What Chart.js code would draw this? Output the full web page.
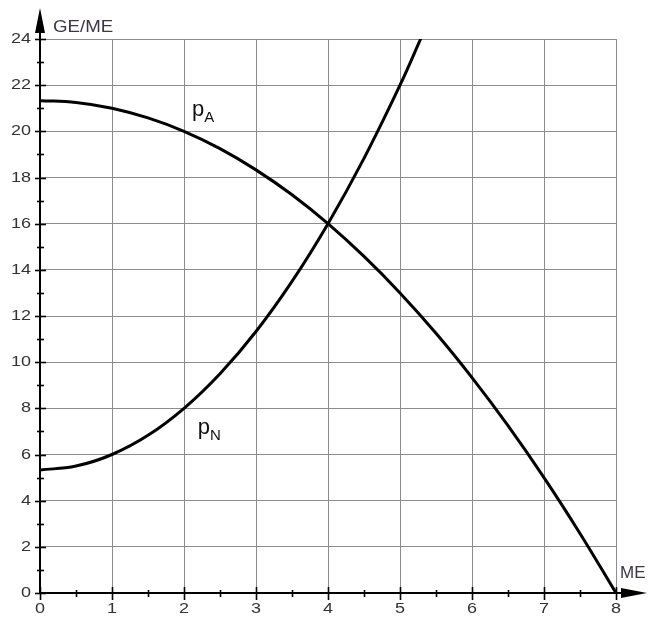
<!DOCTYPE html>
<html>
<head>
<meta charset="utf-8">
<script src="https://cdn.jsdelivr.net/npm/chart.js@4/dist/chart.umd.min.js"></script>
<style>
  html, body { margin: 0; padding: 0; background: #ffffff; }
  #wrap { width: 649px; height: 619px; }
</style>
</head>
<body>
<div id="wrap"><canvas id="c" width="649" height="619"></canvas></div>
<script>
// Quantity (ME) and the two price curves (GE/ME)
const qA = [0, 0.5, 1, 1.5, 2, 2.5, 3, 3.5, 4, 4.5, 5, 5.5, 6, 6.5, 7, 7.5, 8];
const pA = [21.33, 21.25, 21, 20.58, 20, 19.25, 18.33, 17.25, 16, 14.58, 13, 11.25, 9.33, 7.25, 5, 2.58, 0];

const qN = [0, 0.5, 1, 1.5, 2, 2.5, 3, 3.5, 4, 4.5, 5, 5.3];
const pN = [5.33, 5.5, 6, 6.83, 8, 9.5, 11.33, 13.5, 16, 18.83, 22, 24.1];

// Axis tick labels
const xTicks = [0, 1, 2, 3, 4, 5, 6, 7, 8];
const yTicks = [0, 2, 4, 6, 8, 10, 12, 14, 16, 18, 20, 22, 24];
const xMinor = [0.5, 1.5, 2.5, 3.5, 4.5, 5.5, 6.5, 7.5];
const yMinor = [1, 3, 5, 7, 9, 11, 13, 15, 17, 19, 21, 23];

const xTitle = 'ME';
const yTitle = 'GE/ME';

const toPts = (xs, ys) => xs.map((x, i) => ({ x: x, y: ys[i] }));

const FONT = '"Liberation Sans", Arial, sans-serif';
const TEXT = '#333333';

function stretched(ctx, s, x, y, align, sx) {
  ctx.save();
  ctx.translate(x, y);
  ctx.scale(sx, 1);
  ctx.textAlign = align;
  ctx.fillText(s, 0, 0);
  ctx.restore();
}

// Axes with arrows, major/minor ticks and tick labels
const axesPlugin = {
  id: 'axes',
  beforeDatasetsDraw(chart) {
    const ctx = chart.ctx;
    const xs = chart.scales.x, ys = chart.scales.y;
    const x0 = xs.getPixelForValue(0);
    const y0 = ys.getPixelForValue(0);
    ctx.save();
    ctx.strokeStyle = '#000';
    ctx.fillStyle = '#000';
    ctx.lineWidth = 2;
    // y axis
    ctx.beginPath();
    ctx.moveTo(x0, y0 + 1);
    ctx.lineTo(x0, 14);
    ctx.stroke();
    ctx.beginPath();
    ctx.moveTo(x0, 8);
    ctx.lineTo(x0 - 5, 33);
    ctx.lineTo(x0 + 5, 33);
    ctx.closePath();
    ctx.fill();
    // x axis
    ctx.beginPath();
    ctx.moveTo(x0 - 1, y0);
    ctx.lineTo(642, y0);
    ctx.stroke();
    ctx.beginPath();
    ctx.moveTo(647, y0);
    ctx.lineTo(621, y0 - 5);
    ctx.lineTo(621, y0 + 5);
    ctx.closePath();
    ctx.fill();
    // ticks
    ctx.lineWidth = 1.6;
    yTicks.forEach(v => {
      const y = Math.round(ys.getPixelForValue(v)) + 0.5;
      ctx.beginPath(); ctx.moveTo(x0 - 5, y); ctx.lineTo(x0 + 6, y); ctx.stroke();
    });
    yMinor.forEach(v => {
      const y = Math.round(ys.getPixelForValue(v)) + 0.5;
      ctx.beginPath(); ctx.moveTo(x0 - 3, y); ctx.lineTo(x0 + 4, y); ctx.stroke();
    });
    xTicks.forEach(v => {
      const x = Math.round(xs.getPixelForValue(v)) + 0.5;
      ctx.beginPath(); ctx.moveTo(x, y0 - 6); ctx.lineTo(x, y0 + 7); ctx.stroke();
    });
    xMinor.forEach(v => {
      const x = Math.round(xs.getPixelForValue(v)) + 0.5;
      ctx.beginPath(); ctx.moveTo(x, y0 - 3); ctx.lineTo(x, y0 + 4); ctx.stroke();
    });
    ctx.restore();
  },
  afterDraw(chart) {
    const ctx = chart.ctx;
    const xs = chart.scales.x, ys = chart.scales.y;
    ctx.save();
    ctx.fillStyle = TEXT;
    ctx.font = '15px ' + FONT;
    ctx.textBaseline = 'middle';
    yTicks.forEach(v => stretched(ctx, String(v), 31, ys.getPixelForValue(v), 'right', 1.2));
    ctx.textBaseline = 'top';
    xTicks.forEach(v => stretched(ctx, String(v), xs.getPixelForValue(v), 601, 'center', 1.2));

    // axis titles
    ctx.fillStyle = '#3c3645';
    ctx.font = '17px ' + FONT;
    ctx.textBaseline = 'alphabetic';
    stretched(ctx, yTitle, 53, 32, 'left', 1.1);
    stretched(ctx, xTitle, 620, 578, 'left', 1.0);

    // curve labels
    ctx.fillStyle = '#111';
    const lab = (main, sub, qx, qy) => {
      const px = xs.getPixelForValue(qx), py = ys.getPixelForValue(qy);
      ctx.font = '22px ' + FONT;
      ctx.textAlign = 'left';
      ctx.fillText(main, px, py);
      const w = ctx.measureText(main).width;
      ctx.font = '15px ' + FONT;
      ctx.fillText(sub, px + w, py + 6);
    };
    lab('p', 'A', 2.11, 20.65);
    lab('p', 'N', 2.19, 6.9);
    ctx.restore();
  }
};

new Chart(document.getElementById('c'), {
  type: 'line',
  data: {
    datasets: [
      { label: 'pA', data: toPts(qA, pA), borderColor: '#000', borderWidth: 3,
        pointRadius: 0, tension: 0.4, fill: false },
      { label: 'pN', data: toPts(qN, pN), borderColor: '#000', borderWidth: 3,
        pointRadius: 0, tension: 0.4, fill: false }
    ]
  },
  options: {
    responsive: false,
    devicePixelRatio: 1,
    animation: false,
    layout: { padding: { left: 40, right: 33, top: 39, bottom: 26 } },
    plugins: { legend: { display: false }, tooltip: { enabled: false } },
    scales: {
      x: {
        type: 'linear', min: 0, max: 8,
        afterFit: s => { s.height = 0; },
        ticks: { display: false, stepSize: 1 },
        border: { display: false },
        grid: { color: '#8c8c8c', lineWidth: 1, drawTicks: false }
      },
      y: {
        type: 'linear', min: 0, max: 24,
        afterFit: s => { s.width = 0; },
        ticks: { display: false, stepSize: 2 },
        border: { display: false },
        grid: { color: '#8c8c8c', lineWidth: 1, drawTicks: false }
      }
    }
  },
  plugins: [axesPlugin]
});
</script>
</body>
</html>
